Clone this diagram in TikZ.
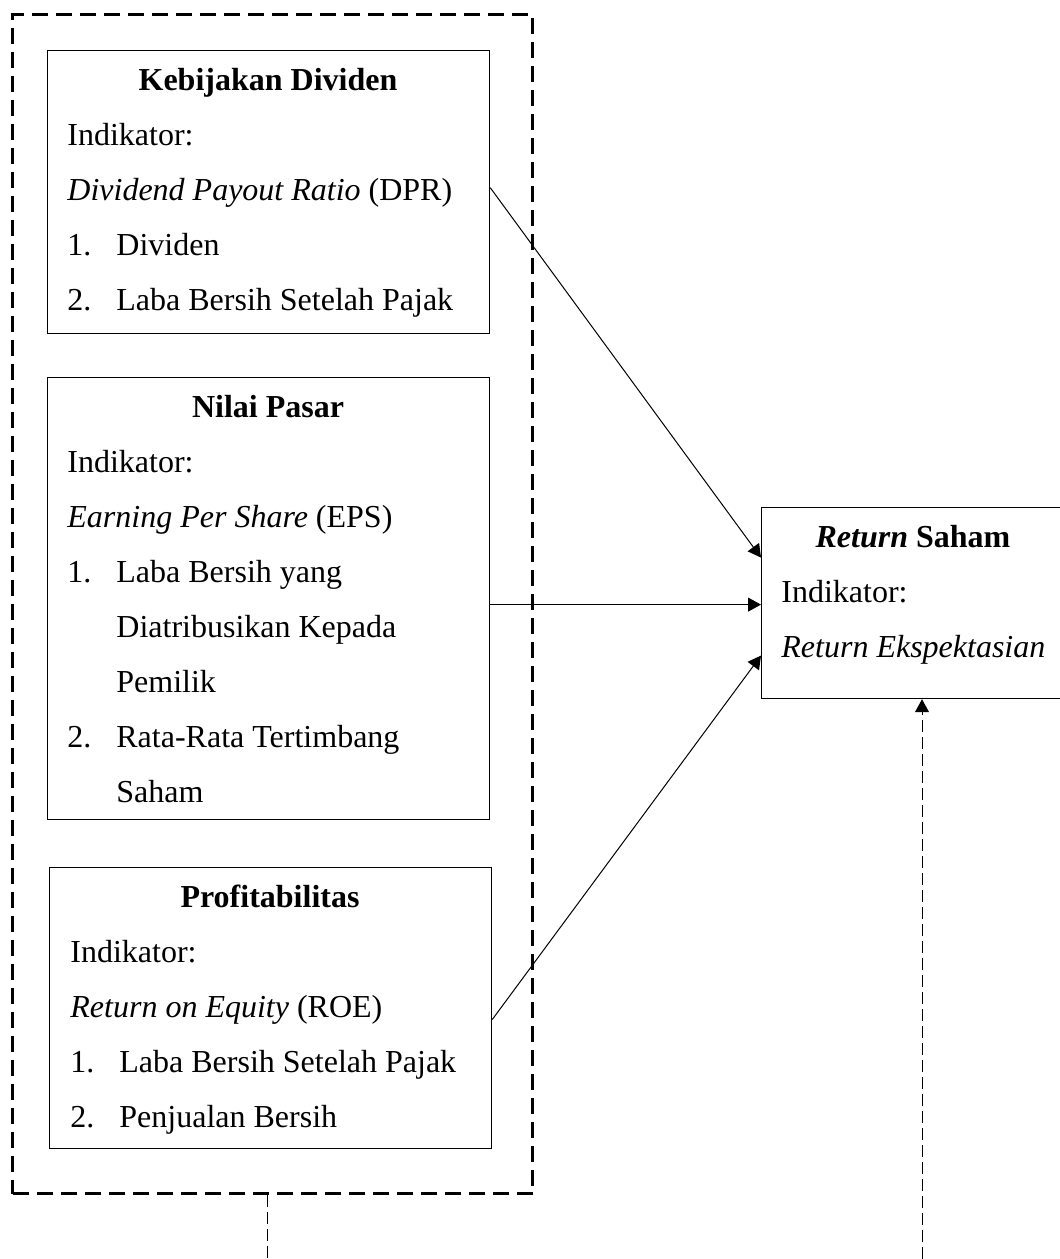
\documentclass[tikz,border=0pt]{standalone}
\usepackage{fontspec}
\setmainfont{Liberation Serif}
\usetikzlibrary{arrows.meta,calc}
\begin{document}
\begin{tikzpicture}[x=0.5pt,y=-0.5pt,
  box/.style={draw,line width=0.6pt,rectangle,inner sep=0pt,anchor=north west},
  grpbox/.style={draw,line width=1.5pt,dash pattern=on 8pt off 4pt,rectangle,inner sep=0pt,anchor=north west},
  txt/.style={anchor=base west,inner sep=0pt,font=\fontsize{16}{19}\selectfont},
  ttl/.style={anchor=base,inner sep=0pt,font=\fontsize{16}{19}\selectfont\bfseries},
  arr/.style={line width=0.5pt,-{Triangle[length=6.5pt,width=7pt]}},
  thindash/.style={line width=0.5pt,dash pattern=on 6pt off 2.5pt}]
\useasboundingbox (0,0) rectangle (1060,1259);
% group
\node[grpbox,minimum width=260pt,minimum height=589.5pt] (grp) at (11,13) {};
% box 1
\node[box,minimum width=221pt,minimum height=141.5pt] (b1) at (47,50) {};
\node[ttl] (t1) at (268,90) {Kebijakan Dividen};
\node[txt] (t1a) at (67,145) {Indikator:};
\node[txt] (t1b) at (67,200) {\textit{Dividend Payout Ratio} (DPR)};
\node[txt] (t1c) at (67,255) {1.};
\node[txt] (t1d) at (116,255) {Dividen};
\node[txt] (t1e) at (67,310) {2.};
\node[txt] (t1f) at (116,310) {Laba Bersih Setelah Pajak};
% box 2
\node[box,minimum width=221pt,minimum height=221pt] (b2) at (47,377) {};
\node[ttl] (t2) at (268,417) {Nilai Pasar};
\node[txt] (t2a) at (67,472) {Indikator:};
\node[txt] (t2b) at (67,527) {\textit{Earning Per Share} (EPS)};
\node[txt] (t2c) at (67,582) {1.};
\node[txt] (t2d) at (116,582) {Laba Bersih yang};
\node[txt] (t2e) at (116,637) {Diatribusikan Kepada};
\node[txt] (t2f) at (116,692) {Pemilik};
\node[txt] (t2g) at (67,747) {2.};
\node[txt] (t2h) at (116,747) {Rata-Rata Tertimbang};
\node[txt] (t2i) at (116,802) {Saham};
% box 3
\node[box,minimum width=221pt,minimum height=140.5pt] (b3) at (49,867) {};
\node[ttl] (t3) at (270,907) {Profitabilitas};
\node[txt] (t3a) at (70,962) {Indikator:};
\node[txt] (t3b) at (70,1017) {\textit{Return on Equity} (ROE)};
\node[txt] (t3c) at (70,1072) {1.};
\node[txt] (t3d) at (119,1072) {Laba Bersih Setelah Pajak};
\node[txt] (t3e) at (70,1127) {2.};
\node[txt] (t3f) at (119,1127) {Penjualan Bersih};
% right box
\node[box,minimum width=152pt,minimum height=95.5pt] (rs) at (761,507) {};
\node[ttl] (t4) at (913,547) {\textit{Return} Saham};
\node[txt] (t4a) at (781,602) {Indikator:};
\node[txt] (t4b) at (781,657) {\textit{Return Ekspektasian}};
% connectors
\draw[arr] ($(b1.east)+(0,-4.5)$) -- ($(rs.west)+(0,-45.5)$);
\draw[arr] ($(b2.east)+(0,6)$) -- ($(rs.west)+(0,1.5)$);
\draw[arr] ($(b3.east)+(0,11.5)$) -- ($(rs.west)+(0,52.5)$);
\coordinate (c1) at (267,1259);
\coordinate (c2) at (922,1259);
\draw[thindash] (grp.south -| c1) -- (c1);
\draw[thindash,-{Triangle[length=6.5pt,width=7pt]}] (c2) -- (rs.south -| c2);
\end{tikzpicture}
\end{document}
